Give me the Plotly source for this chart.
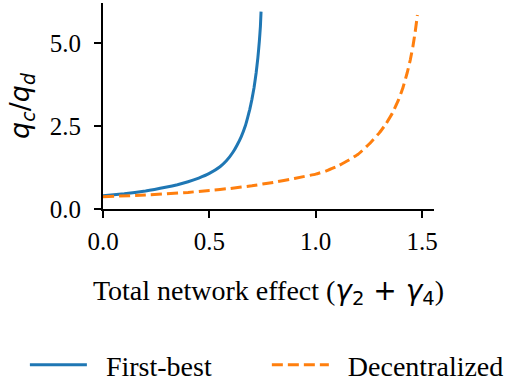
import plotly.graph_objects as go

# Data
first_best_x = [0.0, 0.1, 0.2, 0.3, 0.35, 0.4, 0.45, 0.5, 0.55, 0.58, 0.61, 0.63, 0.65, 0.67, 0.68, 0.69, 0.70, 0.71, 0.72, 0.728, 0.735, 0.74, 0.743]
first_best_y = [0.40, 0.46, 0.54, 0.66, 0.73, 0.82, 0.93, 1.07, 1.27, 1.45, 1.70, 1.92, 2.18, 2.52, 2.75, 3.00, 3.30, 3.65, 4.10, 4.55, 5.05, 5.50, 5.94]

decentralized_x = [0.0, 0.2, 0.4, 0.5, 0.6, 0.7, 0.8, 0.9, 1.0, 1.05, 1.1, 1.15, 1.2, 1.25, 1.3, 1.33, 1.36, 1.39, 1.41, 1.43, 1.445, 1.457, 1.468, 1.478]
decentralized_y = [0.37, 0.42, 0.50, 0.56, 0.62, 0.70, 0.80, 0.92, 1.05, 1.15, 1.28, 1.45, 1.65, 1.95, 2.30, 2.56, 2.88, 3.30, 3.65, 4.10, 4.50, 4.90, 5.35, 5.84]

x_ticks = [0.0, 0.5, 1.0, 1.5]
x_tick_labels = ["0.0", "0.5", "1.0", "1.5"]
y_ticks = [0.0, 2.5, 5.0]
y_tick_labels = ["0.0", "2.5", "5.0"]

SERIF = "'Liberation Serif', 'Times New Roman', serif"
SANS = "'DejaVu Sans', sans-serif"
PAD = "\u00a0\u00a0"

fig = go.Figure()
fig.add_trace(go.Scatter(
    x=first_best_x, y=first_best_y, mode="lines", name=PAD + "First-best",
    line=dict(color="#1f77b4", width=3, shape="spline", smoothing=0.3),
    legend="legend",
))
fig.add_trace(go.Scatter(
    x=decentralized_x, y=decentralized_y, mode="lines", name=PAD + "Decentralized",
    line=dict(color="#ff7f0e", width=3, dash="11px,5px", shape="spline", smoothing=0.3),
    legend="legend2",
))

legend_common = dict(
    orientation="h", yanchor="middle", xanchor="left",
    font=dict(family=SERIF, size=28, color="black"),
    itemwidth=57, bgcolor="rgba(0,0,0,0)", borderwidth=0,
)

fig.update_layout(
    width=506, height=383,
    margin=dict(l=103, r=72, t=3, b=174, autoexpand=False),
    paper_bgcolor="white", plot_bgcolor="white",
    font=dict(family=SERIF, size=24, color="black"),
    showlegend=True,
    legend=dict(x=-0.236, y=-0.757, **legend_common),
    legend2=dict(x=0.495, y=-0.757, **legend_common),
    xaxis=dict(
        range=[0, 1.556], tickvals=x_ticks, ticktext=x_tick_labels,
        showgrid=False, zeroline=False, showline=True, linecolor="black", linewidth=1.8,
        ticks="outside", ticklen=7, tickwidth=1.6, tickcolor="black",
        tickfont=dict(family=SERIF, size=25), ticklabelstandoff=2,
        title=dict(
            text="Total network effect (<span style=\"font-family:'DejaVu Sans'\"><i>γ</i><sub>2</sub> + <i>γ</i><sub>4</sub></span>)",
            font=dict(family=SERIF, size=28), standoff=26,
        ),
    ),
    yaxis=dict(
        range=[0, 6.2], tickvals=y_ticks, ticktext=y_tick_labels,
        showgrid=False, zeroline=False, showline=True, linecolor="black", linewidth=1.8,
        ticks="outside", ticklen=7, tickwidth=1.6, tickcolor="black",
        tickfont=dict(family=SERIF, size=25), ticklabelstandoff=8,
        title=dict(
            text="<i>q<sub>c</sub></i>/<i>q<sub>d</sub></i>",
            font=dict(family=SANS, size=27), standoff=12,
        ),
    ),
)

fig.write_html("out.html")
